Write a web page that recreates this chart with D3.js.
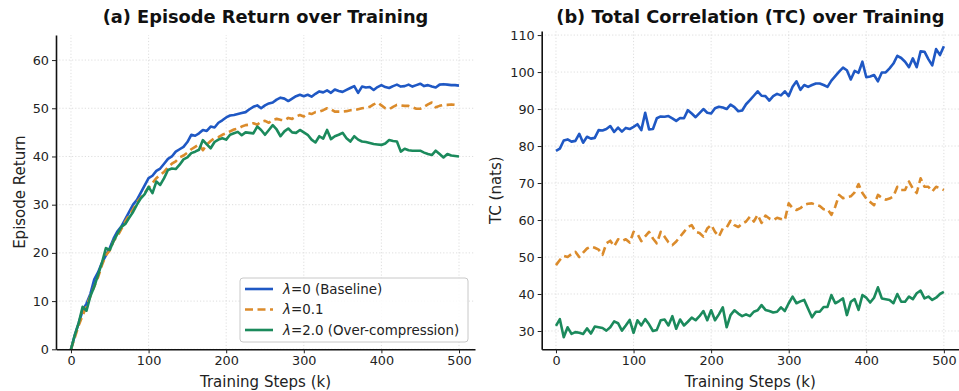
<!DOCTYPE html>
<html>
<head>
<meta charset="utf-8">
<script src="https://cdn.jsdelivr.net/npm/d3@7/dist/d3.min.js"></script>
<style>
  html, body { margin: 0; padding: 0; background: #fff; }
  svg { display: block; font-family: "DejaVu Sans", sans-serif; }
</style>
</head>
<body>
<svg id="chart" width="959" height="391"></svg>
<script>
// ---- data ----
const stepLabels = [0, 100, 200, 300, 400, 500];
const returnTicks = [0, 10, 20, 30, 40, 50, 60];
const tcTicks = [30, 40, 50, 60, 70, 80, 90, 100, 110];
const seriesLambda = ["0", "0.1", "2.0"];
const seriesSuffix = [" (Baseline)", "", " (Over-compression)"];

// steps 0..500 every 5k
const steps = d3.range(0, 501, 5);

const returnBaseline = [
  0, 3.0, 5.5, 8.0, 9.5, 11.5, 14.5, 16.0, 18.0, 19.5,
  21.0, 23.0, 24.5, 25.5, 27.0, 28.5, 30.0, 31.0, 32.5, 34.0,
  35.5, 36.0, 37.0, 37.5, 38.5, 39.5, 40.0, 41.0, 41.5, 42.0,
  43.0, 44.5, 44.3, 44.8, 45.5, 45.3, 46.2, 46.0, 47.0, 47.5,
  48.1, 48.5, 48.6, 48.8, 49.0, 49.2, 49.8, 50.3, 50.6, 50.0,
  50.6, 51.0, 51.2, 51.8, 52.2, 52.0, 51.5, 52.0, 52.5, 52.8,
  52.5, 52.8, 52.4, 53.0, 53.5, 53.3, 53.7, 53.2, 53.9, 53.6,
  53.4, 53.8, 54.2, 54.6, 53.2, 54.5, 54.3, 54.4, 53.8, 54.4,
  54.8, 54.4, 54.2, 54.6, 54.9, 54.5, 54.6, 54.9, 54.5, 54.8,
  55.1, 54.6, 54.8, 54.5, 54.3, 54.9, 55.0, 54.9, 54.8, 54.8,
  54.7
];
const returnLambda01 = [
  0, 2.5, 5.0, 7.0, 9.0, 11.0, 13.0, 15.0, 17.5, 19.5,
  20.5, 22.5, 23.5, 25.0, 26.5, 27.8, 29.0, 30.5, 31.5, 32.5,
  33.5, 34.5, 35.5, 36.2, 36.8, 37.8, 38.5, 39.0, 39.8, 40.2,
  40.8, 41.5, 42.0, 42.5, 41.3, 42.5, 43.2, 43.8, 44.0, 44.5,
  44.8, 45.2, 45.6, 45.8, 46.2, 46.5, 46.6, 46.9, 46.6, 47.2,
  47.4, 47.0, 47.6, 47.8, 47.6, 47.5, 48.0, 47.8, 48.3, 48.6,
  48.3, 49.0, 48.8, 49.2, 49.3, 49.6, 50.0, 49.8, 49.3, 49.3,
  49.3, 49.4, 49.6, 49.6, 49.8, 50.0, 50.1, 50.3, 50.8, 51.2,
  50.6, 50.0, 49.8, 50.3, 50.7, 50.6, 50.5, 50.5, 50.2, 49.9,
  49.9, 50.3, 50.8, 51.2, 50.2, 50.5, 50.7, 50.7, 50.8, 50.7,
  50.9
];
const returnLambda2 = [
  0, 3.0, 5.5, 8.8, 8.0, 11.0, 13.0, 15.5, 18.0, 21.0,
  20.6, 22.5, 24.0, 25.4, 26.0, 27.3, 28.5, 30.0, 31.3, 32.2,
  33.7, 32.4, 34.8, 34.1, 35.5, 37.2, 37.5, 37.4, 38.3, 39.4,
  39.8, 40.7, 41.0, 41.4, 43.4, 42.5, 41.7, 43.0, 43.5, 43.8,
  43.5, 44.5, 44.8, 45.1, 44.4, 45.0, 44.9, 44.8, 46.2, 45.5,
  44.5, 45.5, 46.5, 45.6, 44.2, 45.2, 45.8, 45.0, 44.9, 45.5,
  45.0, 44.5, 43.5, 42.9, 44.2, 43.7, 45.5, 43.6, 44.2, 44.5,
  44.9, 43.8, 43.1, 44.2, 43.5, 43.1, 43.0, 42.8, 42.6, 42.5,
  42.4, 42.7, 43.4, 43.2, 43.1, 41.0, 41.6, 41.3, 41.2, 41.2,
  41.2, 40.8, 40.5, 40.3, 41.2, 40.5, 39.8, 40.5, 40.2, 40.1,
  40.0
];

const tcBaseline = [
  78.7, 79.3, 81.5, 81.8, 81.2, 81.4, 83.3, 80.9, 82.5, 82.0,
  82.2, 84.3, 84.2, 84.6, 85.4, 83.8, 85.0, 83.9, 84.9, 84.6,
  85.2, 85.9, 84.3, 89.0, 84.5, 84.6, 87.5, 88.0, 87.9, 88.1,
  87.5, 86.8, 87.6, 87.5, 89.7, 88.8, 87.8, 88.9, 90.0, 89.0,
  88.8, 90.2, 90.6, 90.4, 90.0, 91.2, 90.5, 89.4, 89.6, 91.3,
  92.4, 93.6, 94.8, 93.6, 93.5, 92.3, 93.5, 94.1, 93.7, 94.8,
  93.5, 96.0, 97.5, 95.2, 96.5, 96.0, 96.5, 96.9, 96.9, 96.5,
  96.0, 97.7, 98.9, 100.1, 101.2, 100.5, 98.0, 100.3, 99.8, 102.8,
  98.6, 98.8, 99.2, 97.5, 99.9, 99.9, 101.0, 102.3, 104.4, 103.8,
  102.8, 101.3, 103.7, 101.3, 105.6, 105.5, 103.5, 101.8, 106.2, 104.6,
  107.0
];
const tcLambda01 = [
  47.8, 49.2, 50.3, 50.0, 50.8, 51.4, 50.0, 51.2, 52.3, 52.8,
  52.5, 52.0, 50.6, 53.7, 54.4, 52.9, 54.8, 54.3, 54.8, 53.9,
  56.8, 56.2, 54.3, 55.6, 56.8, 55.0, 53.7, 56.8, 55.5, 54.0,
  53.2, 54.2, 55.5, 56.8, 58.1, 58.6, 56.8, 56.5, 55.5, 57.7,
  58.7, 56.8, 55.5, 57.7, 58.0, 59.8, 58.6, 58.1, 59.0, 59.6,
  60.9, 59.6, 61.4, 59.2, 61.2, 60.4, 60.0, 60.6, 60.3, 60.0,
  64.5, 63.2, 62.7, 63.2, 64.1, 64.4, 64.5, 64.1, 63.8, 62.9,
  62.9, 61.4, 63.6, 66.8, 65.9, 66.2, 66.4, 67.5, 69.7, 67.3,
  65.8, 64.9, 64.0, 66.8, 66.0, 65.5, 65.8, 66.4, 69.0, 68.1,
  68.1, 70.4, 68.5, 67.3, 71.3, 69.0, 69.0, 67.7, 69.0, 68.6,
  68.1
];
const tcLambda2 = [
  31.4, 33.2, 28.3, 31.0, 29.2, 29.7, 29.5, 29.2, 30.7, 29.3,
  31.2, 31.0, 30.8, 30.1, 31.0, 32.6, 32.1, 30.1, 31.5, 33.0,
  29.5, 32.9, 31.5, 33.2, 31.8, 30.0, 30.3, 32.9, 33.1, 31.5,
  34.0, 30.6, 33.1, 31.5, 32.5, 33.6, 32.9, 34.0, 35.4, 32.9,
  35.6, 32.9, 34.5, 36.4, 31.0, 34.3, 35.6, 34.7, 34.0, 34.5,
  34.0, 35.2, 35.6, 37.0, 35.7, 35.4, 35.0, 35.2, 36.4, 35.4,
  37.5, 39.3, 37.5, 38.0, 38.4, 36.0, 33.7, 35.2, 35.2, 36.5,
  36.5, 39.7, 37.5, 38.1, 38.8, 34.3, 37.9, 38.6, 35.7, 39.7,
  39.0, 37.7, 39.0, 41.8, 38.8, 38.6, 38.4, 37.5, 40.0, 37.9,
  37.9, 39.3, 38.6, 40.2, 40.9, 38.8, 39.3, 38.4, 39.0, 40.0,
  40.6
];

// ---- styles ----
const colors = ["#1f58c4", "#db8b2b", "#1b8a5c"];
const dashes = [null, "8,4.5", null];

const svg = d3.select("#chart");

function panel(opts) {
  const g = svg.append("g");
  const x = d3.scaleLinear().domain(opts.xDomain).range(opts.xRange);
  const y = d3.scaleLinear().domain(opts.yDomain).range(opts.yRange);

  // grid
  const grid = g.append("g").attr("stroke", "#d6d6d6").attr("stroke-width", 0.8)
    .attr("stroke-dasharray", "1.2,2");
  grid.selectAll("line.vx").data(stepLabels).join("line")
    .attr("x1", d => x(d)).attr("x2", d => x(d))
    .attr("y1", opts.yRange[0]).attr("y2", opts.yRange[1]);
  grid.selectAll("line.hy").data(opts.yTicks).join("line")
    .attr("x1", opts.xRange[0]).attr("x2", opts.xRange[1])
    .attr("y1", d => y(d)).attr("y2", d => y(d));

  // lines
  const line = d3.line().x((d, i) => x(steps[i])).y(d => y(d));
  opts.series.forEach((s, k) => {
    g.append("path").datum(s)
      .attr("d", line)
      .attr("fill", "none")
      .attr("stroke", colors[k])
      .attr("stroke-width", 2.6)
      .attr("stroke-linejoin", "round")
      .attr("stroke-dasharray", dashes[k]);
  });

  // axes
  const xAxis = g.append("g").attr("transform", `translate(0,${opts.yRange[0]})`)
    .call(d3.axisBottom(x).tickValues(stepLabels).tickSize(4).tickSizeOuter(0).tickPadding(3));
  const yAxis = g.append("g").attr("transform", `translate(${opts.xRange[0]},0)`)
    .call(d3.axisLeft(y).tickValues(opts.yTicks).tickSize(4).tickSizeOuter(0).tickPadding(3));
  [xAxis, yAxis].forEach(a => {
    a.select(".domain").attr("stroke", "#111").attr("stroke-width", 1.6);
    a.selectAll(".tick line").attr("stroke", "#222").attr("stroke-width", 1);
    a.selectAll(".tick text").attr("font-size", 12.8).attr("fill", "#222")
      .attr("font-family", "DejaVu Sans");
  });

  const cx = (opts.xRange[0] + opts.xRange[1]) / 2;
  // title
  g.append("text").attr("x", cx).attr("y", 23).attr("text-anchor", "middle")
    .attr("font-size", 17.8).attr("font-weight", "bold").attr("fill", "#111")
    .text(opts.title);
  // x label
  g.append("text").attr("x", cx).attr("y", 387).attr("text-anchor", "middle")
    .attr("font-size", 15).attr("fill", "#222").text("Training Steps (k)");
  // y label
  const cy = (opts.yRange[0] + opts.yRange[1]) / 2;
  g.append("text").attr("transform", `translate(${opts.yLabelX},${cy}) rotate(-90)`)
    .attr("text-anchor", "middle").attr("font-size", 15).attr("fill", "#222")
    .text(opts.yLabel);
  return g;
}

panel({
  xDomain: [-19.3, 520.6], xRange: [56, 475],
  yDomain: [0, 65.2], yRange: [349.3, 35],
  yTicks: returnTicks,
  series: [returnBaseline, returnLambda01, returnLambda2],
  title: "(a) Episode Return over Training",
  yLabel: "Episode Return", yLabelX: 25
});

panel({
  xDomain: [-18.4, 519.5], xRange: [541.7, 959],
  yDomain: [25.05, 111.1], yRange: [349.3, 31],
  yTicks: tcTicks,
  series: [tcBaseline, tcLambda01, tcLambda2],
  title: "(b) Total Correlation (TC) over Training",
  yLabel: "TC (nats)", yLabelX: 501
});

// legend
const lg = svg.append("g").attr("transform", "translate(240,278)");
lg.append("rect").attr("width", 228).attr("height", 64).attr("rx", 3)
  .attr("fill", "rgba(255,255,255,0.85)").attr("stroke", "#c8c8c8").attr("stroke-width", 1);
seriesLambda.forEach((lam, k) => {
  const yy = 11 + k * 20.5;
  lg.append("line").attr("x1", 5).attr("x2", 33).attr("y1", yy).attr("y2", yy)
    .attr("stroke", colors[k]).attr("stroke-width", 2.6).attr("stroke-dasharray", dashes[k]);
  const t = lg.append("text").attr("x", 43).attr("y", yy).attr("dy", "0.35em")
    .attr("font-size", 13.4).attr("fill", "#222");
  t.append("tspan").attr("font-style", "italic").text("\u03bb");
  t.append("tspan").text("=" + lam + seriesSuffix[k]);
});
</script>
</body>
</html>
